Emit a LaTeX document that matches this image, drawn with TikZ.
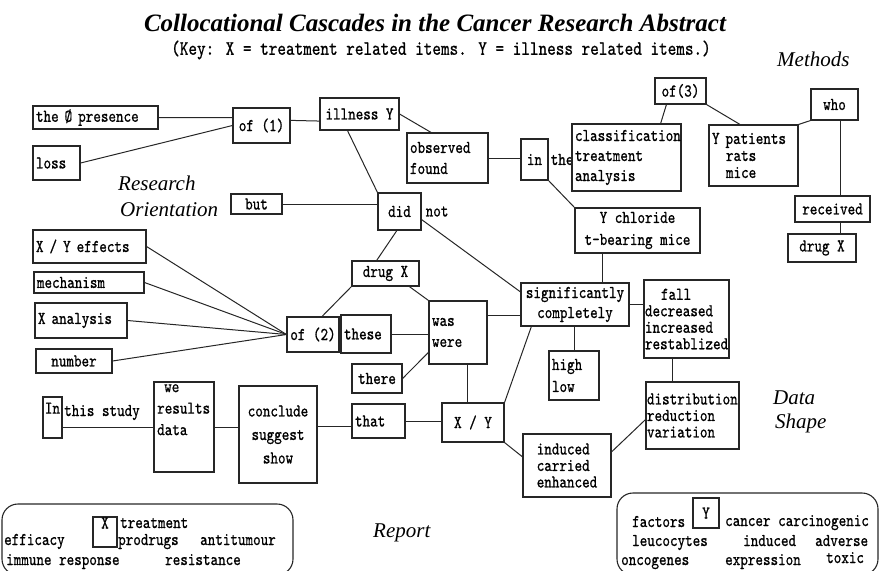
\documentclass[tikz,border=0pt]{standalone}
\usepackage{fontspec}
\setmainfont{Liberation Serif}
\newfontfamily\boxfamily{lmmono10-regular.otf}[FakeStretch=0.8, FakeBold=0.8]
\usetikzlibrary{positioning,calc}

\begin{document}
\begin{tikzpicture}
  [x=1pt,y=-1pt,
   every node/.style={font=\boxfamily\fontsize{18}{20}\selectfont, inner sep=2pt},
   box/.style={draw=black!85, line width=1.1pt, inner xsep=3pt, align=center},
   lbox/.style={box, text width=#1, align=left},
   lh/.style={font=\boxfamily\fontsize{18}{#1}\selectfont},
   txt/.style={inner sep=0pt},
   part/.style={font=\itshape\fontsize{21}{22}\selectfont, inner sep=0pt, anchor=base west},
   link/.style={draw=black!85, line width=1pt}]
  \useasboundingbox (0,0) rectangle (880,570);
  \clip (0,0) rectangle (880,570);

  % heading
  \node[font=\bfseries\itshape\fontsize{25}{27}\selectfont] (title) at (435,23)
    {Collocational Cascades in the Cancer Research Abstract};
  \node[font=\boxfamily\fontsize{20.5}{22}\selectfont] (key) at (441,50)
    {(Key: X = treatment related items. Y = illness related items.)};

  % part labels
  \node[part] (research) at (118,190) {Research};
  \node[part] (orient) at (120,216) {Orientation};
  \node[part] (methods) at (777,66) {Methods};
  \node[part] (data) at (773,404) {Data};
  \node[part] (shape) at (775,428) {Shape};
  \node[part] (report) at (373,537) {Report};

  % top row
  \node[lbox=119, minimum height=23] (presence) at (95.5,117.5) {the Ø presence};
  \node[lbox=41, minimum height=34] (loss) at (56.5,163) {loss};
  \node[box, minimum width=57, minimum height=35] (of1) at (261.5,125.5) {of (1)};
  \node[box, minimum width=79, minimum height=32] (illY) at (359.5,114) {illness Y};
  \node[lbox=75, minimum height=50, lh=21] (obs) at (447.5,158) {observed\\found};
  \node[box, minimum width=27, minimum height=41] (inb) at (534.5,159.5) {in};
  \node[txt, right=2pt of inb] (inthe) {the};
  \node[lbox=103, minimum height=67, lh=20] (classif) at (626.5,157.5)
    {classification\\treatment\\analysis};
  \node[box, minimum width=51, minimum height=26] (of3) at (680.5,91) {of(3)};
  \node[lbox=83, minimum height=61, lh=17] (pat) at (753.5,155.5)
    {Y patients\\\hspace*{14pt}rats\\\hspace*{14pt}mice};
  \node[box, minimum width=47, minimum height=31] (who) at (834.5,104.5) {who};
  \node[box, minimum width=75, minimum height=26] (recv) at (832.5,209) {received};
  \node[box, minimum width=68, minimum height=28] (drugR) at (822,248) {drug X};

  % middle
  \node[box, minimum width=51, minimum height=20] (but) at (256.5,204) {but};
  \node[box, minimum width=43, minimum height=37] (did) at (399.5,211.5) {did};
  \node[txt, right=4pt of did] (not) {not};
  \node[box, minimum width=125, minimum height=45, lh=22] (ychl) at (637.5,230.5)
    {Y chloride\\t-bearing mice};
  \node[box, minimum width=108, minimum height=43, lh=20] (sig) at (575,304.5)
    {significantly\\completely};
  \node[lbox=83, inner xsep=1pt, minimum height=78, lh=16.5] (fall) at (686.5,319)
    {\hspace*{16pt}fall\\decreased\\increased\\restablized};
  \node[lbox=44, minimum height=49, lh=22] (high) at (574,375.5) {high\\low};
  \node[lbox=52, minimum height=63, lh=21] (was) at (458,332.5) {was\\were};
  \node[lbox=107, minimum height=33] (xyeff) at (89.5,246.5) {X / Y effects};
  \node[lbox=104, minimum height=21] (mech) at (89,282.5) {mechanism};
  \node[lbox=86, minimum height=35] (xan) at (81,320.5) {X analysis};
  \node[box, minimum width=76, minimum height=24] (number) at (74,361) {number};
  \node[box, minimum width=52, minimum height=35] (of2) at (313,334.5) {of (2)};
  \node[lbox=44, minimum height=38] (these) at (366,334) {these};
  \node[box, minimum width=67, minimum height=25] (drugM) at (385.5,273.5) {drug X};
  \node[box, minimum width=50, minimum height=29] (there) at (377,378.5) {there};
  \node[box, minimum width=62, minimum height=39] (xyb) at (473,422.5) {X / Y};
  \node[lbox=91, inner xsep=1pt, minimum height=67, lh=16.5] (dist) at (692.5,415.5)
    {distribution\\reduction\\variation};
  \node[box, align=left, minimum width=88, minimum height=63, lh=16.5] (ind) at (567,465.5)
    {induced\\carried\\enhanced};

  % bottom row
  \node[box, minimum width=19, minimum height=41] (inb2) at (52.5,417.5) {};
  \node[txt, anchor=north] (intxt) at ([yshift=-6pt]inb2.north) {In};
  \node[txt, anchor=base west] (study) at (64,416) {this study};
  \node[box, minimum width=60, minimum height=90] (we) at (184,427) {};
  \node[txt, lh=21.5, align=left, anchor=north west] (wetxt) at (157,384)
    {\hspace*{7pt}we\\results\\data};
  \node[box, minimum width=78, minimum height=97, lh=23.5] (concl) at (278,434.5)
    {conclude\\suggest\\show};
  \node[lbox=47, minimum height=34] (that) at (378.5,421) {that};

  % connectors
  \draw[link] (presence.east) -- (of1.165);
  \draw[link] (loss.east) -- (of1.west);
  \draw[link] (of1.10) -- (illY.190);
  \draw[link] (illY.east) -- ($(obs.north west)!0.3!(obs.north east)$);
  \draw[link] ($(illY.south west)!0.35!(illY.south east)$) -- (did.north west);
  \draw[link] (but.east) -- (but.east -| did.west);
  \draw[link] (obs.east) -- (obs.east -| inb.west);
  \draw[link] (inb.south east) -- (ychl.north west);
  \draw[link] ($(of3.south west)!0.23!(of3.south east)$) -- ($(classif.north west)!0.81!(classif.north east)$);
  \draw[link] (of3.south east) -- ($(pat.north west)!0.35!(pat.north east)$);
  \draw[link] (pat.north east) -- (who.south west);
  \draw[link] ([xshift=6pt]who.south) -- ([xshift=6pt]who.south |- recv.north);
  \draw[link] ([xshift=8pt]recv.south) -- ([xshift=8pt]recv.south |- drugR.north);
  \draw[link] ($(did.south west)!0.44!(did.south east)$) -- ($(drugM.north west)!0.37!(drugM.north east)$);
  \draw[link] (did.-20) -- (sig.167);
  \draw[link] ($(ychl.south west)!0.22!(ychl.south east)$) coordinate (yc) -- (yc |- sig.north);
  \draw[link] (drugM.south west) -- ($(of2.north west)!0.67!(of2.north east)$);
  \draw[link] ($(drugM.south west)!0.85!(drugM.south east)$) -- (was.north west);
  \draw[link] (these.east) -- (these.east -| was.west);
  \draw[link] (was.30) -- (was.30 -| sig.west);
  \draw[link] (sig.south -| high.north) -- (high.north);
  \draw[link] (sig.east) -- (sig.east -| fall.west);
  \draw[link] ($(fall.south west)!0.34!(fall.south east)$) coordinate (fd) -- (fd |- dist.north);
  \draw[link] ($(sig.south west)!0.1!(sig.south east)$) -- (xyb.north east);
  \draw[link] ($(was.south west)!0.66!(was.south east)$) coordinate (wd) -- (wd |- xyb.north);
  \draw[link] (there.east) -- (was.214);
  \draw[link] (that.east) -- (that.east -| xyb.west);
  \draw[link] ([yshift=-5pt]that.west) -- ([yshift=-5pt]that.west -| concl.east);
  \draw[link] (we.east) -- (we.east -| concl.west);
  \draw[link] (we.west -| inb2.east) -- (we.west);
  \draw[link] (xyb.south east) -- (ind.169);
  \draw[link] (ind.17) -- (dist.185);
  \foreach \n in {xyeff,mech,xan,number}
    \draw[link] (\n.east) -- (of2.west);

  % X group
  \draw[link, line width=1.1pt, rounded corners=16pt] (2,504) rectangle (293,575);
  \node[box, minimum width=24, minimum height=30] (xkey) at (105,532) {};
  \node[txt] (xtxt) at (105,523) {X};
  \node[txt, anchor=base west] (treat) at (120,528) {treatment};
  \node[txt, anchor=base west] (effic) at (4,545) {efficacy};
  \node[txt, anchor=base west] (prod) at (118,545) {prodrugs};
  \node[txt, anchor=base west] (antit) at (200,545) {antitumour};
  \node[txt, anchor=base west] (immune) at (6,565) {immune response};
  \node[txt, anchor=base west] (resist) at (165,565) {resistance};

  % Y group
  \draw[link, line width=1.1pt, rounded corners=16pt] (617,493) rectangle (878,575);
  \node[box, minimum width=26, minimum height=30] (ykey) at (706,513) {Y};
  \node[txt, anchor=base west] (factors) at (632,527) {factors};
  \node[txt, anchor=base west] (cancer) at (725,526) {cancer};
  \node[txt, anchor=base west] (carcin) at (778,526) {carcinogenic};
  \node[txt, anchor=base west] (leuco) at (632,546) {leucocytes};
  \node[txt, anchor=base west] (induced) at (743,546) {induced};
  \node[txt, anchor=base west] (adverse) at (815,546) {adverse};
  \node[txt, anchor=base west] (onco) at (621,565) {oncogenes};
  \node[txt, anchor=base west] (expr) at (725,565) {expression};
  \node[txt, anchor=base west] (toxic) at (826,563) {toxic};
\end{tikzpicture}
\end{document}
